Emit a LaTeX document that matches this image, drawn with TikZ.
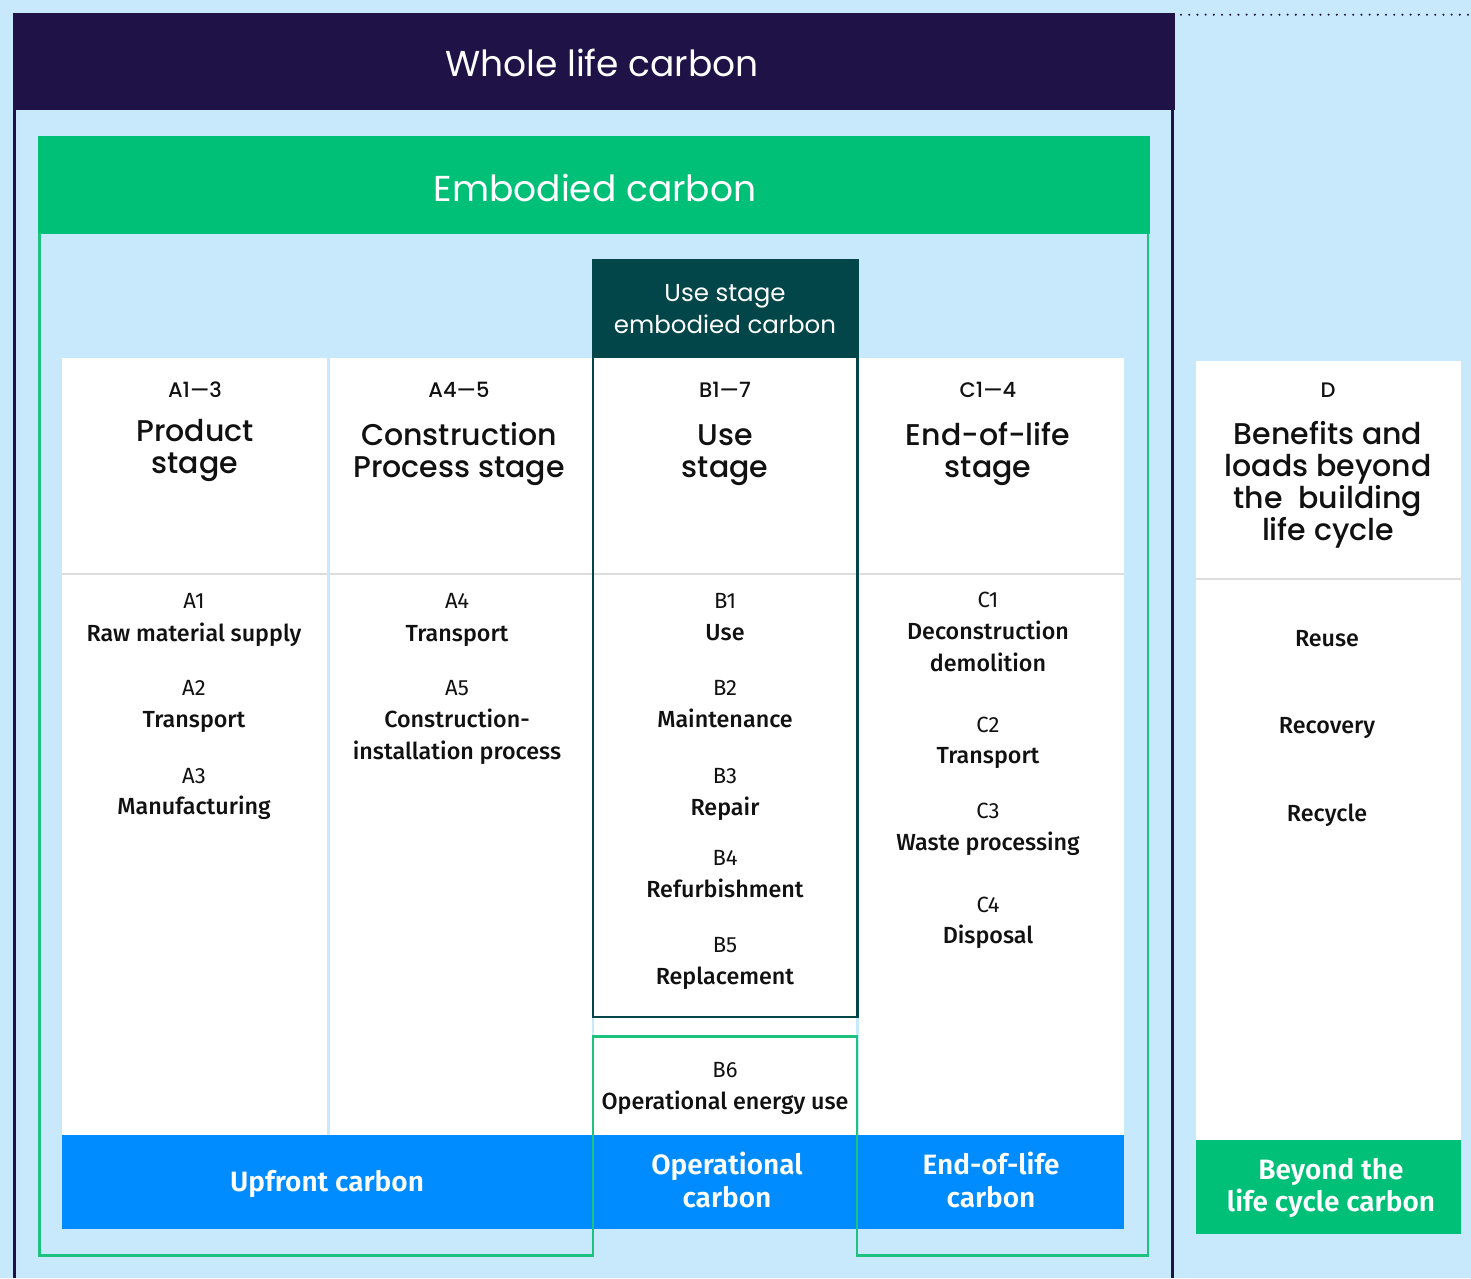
\documentclass[tikz,border=0pt]{standalone}
\usepackage{fontspec}
\newfontfamily\headfont{Poppins}
\newfontfamily\headmed{Poppins Medium}
\newfontfamily\bodyfont{Fira Sans}
\newfontfamily\bodymed{Fira Sans Medium}
\newfontfamily\bodybold{Fira Sans SemiBold}

\definecolor{sky}{HTML}{C8E8FC}
\definecolor{navy}{HTML}{1E1246}
\definecolor{leaf}{HTML}{00C078}
\definecolor{leafline}{HTML}{1CC27E}
\definecolor{deepteal}{HTML}{02464A}
\definecolor{azure}{HTML}{008CFF}
\definecolor{divider}{HTML}{DDDDDD}
\definecolor{ink}{HTML}{111111}

\begin{document}
\begin{tikzpicture}[x=1pt,y=-1pt,
  lbl/.style={anchor=base,inner sep=0pt,outer sep=0pt},
  title/.style={lbl,text=white,font=\headfont\fontsize{36}{36}\selectfont},
  subtitle/.style={lbl,text=white,font=\headfont\fontsize{24.5}{24.5}\selectfont},
  stagecode/.style={lbl,text=ink,font=\headmed\fontsize{21}{21}\selectfont},
  stagename/.style={lbl,text=ink,font=\headmed\fontsize{30}{30}\selectfont},
  modcode/.style={lbl,text=ink,font=\bodyfont\fontsize{22}{22}\selectfont},
  modname/.style={lbl,text=ink,font=\bodymed\fontsize{23.3}{23.3}\selectfont},
  barlabel/.style={lbl,text=white,font=\bodybold\fontsize{28}{28}\selectfont},
  cell/.style={fill=white},
  rule/.style={fill=divider}]
\useasboundingbox (0,0) rectangle (1471,1278);
\fill[sky] (0,0) rectangle (1471,1278);

% whole life carbon frame
\draw[navy,line width=3pt] (14.7,100) -- (14.7,1278);
\draw[navy,line width=3pt] (1172.7,100) -- (1172.7,1278);
\fill[navy] (13,13) rectangle (1175,110);
\draw[navy,line width=2.3pt,line cap=round,dash pattern=on 0pt off 8.2pt] (1181,14.7) -- (1471,14.7);

% embodied carbon header and frame
\fill[leaf] (38,136) rectangle (1150,234);
\draw[leafline,line width=2.6pt] (39.3,234) -- (39.3,1255.5) -- (593,1255.5) -- (593,1036.5)
  -- (857,1036.5) -- (857,1255.5) -- (1148,1255.5) -- (1148,234);

% module columns
\fill[cell] (62,358) rectangle (327,1135);
\fill[cell] (330,358) rectangle (591.5,1135);
\fill[cell] (594,358) rectangle (856,1135);
\fill[cell] (859,358) rectangle (1124,1135);
\fill[rule] (62,572.5) rectangle (327,575);
\fill[rule] (330,572.5) rectangle (591.5,575);
\fill[rule] (594,572.5) rectangle (856,575);
\fill[rule] (859,572.5) rectangle (1124,575);

% carbon category bar
\fill[azure] (62,1135) rectangle (1124,1228.7);

% operational carbon outline (redrawn on top of the bar)
\draw[leafline,line width=2.6pt] (593,1255.5) -- (593,1036.5) -- (857,1036.5) -- (857,1255.5);

% use stage embodied carbon box
\fill[deepteal] (591.7,259.3) rectangle (859,357.5);
\draw[deepteal,line width=2.6pt] (593,357) -- (593,1017) -- (857.5,1017) -- (857.5,357);

% module D column
\fill[cell] (1196,361) rectangle (1461,1140);
\fill[rule] (1196,577.7) rectangle (1461,580);
\fill[leaf] (1196,1140) rectangle (1461,1233.7);

% headers
\node[title] (whole) at (602,76) {Whole life carbon};
\node[title] (embodied) at (595,201) {Embodied carbon};
\node[subtitle] (usehd1) at (725,301) {Use stage};
\node[subtitle] (usehd2) at (725,333) {embodied carbon};

% stage codes
\foreach \x/\t in {195/A1—3,459/A4—5,725/B1—7,988/C1—4,1328/D}
  \node[stagecode] (sc\x) at (\x,397) {\t};

% stage names
\foreach \x/\y/\t in {195/441/Product,195/473/stage,
  459/445/Construction,459/477/Process stage,
  725/445/Use,725/477/stage,
  988/445/End-of-life,988/477/stage,
  1328/444/Benefits and,1328/476/loads beyond,1328/508/the\ \ building,1328/540/life cycle}
  \node[stagename] (sn\x-\y) at (\x,\y) {\t};

% module codes
\foreach \x/\y/\t in {194/608/A1,194/695/A2,194/783/A3,
  457/608/A4,457/695/A5,
  725/608/B1,725/695/B2,725/783/B3,725/865/B4,725/952/B5,725/1077/B6,
  988/607/C1,988/732/C2,988/818/C3,988/912/C4}
  \node[modcode] (mc\x-\y) at (\x,\y) {\t};

% module names
\foreach \x/\y/\t in {194/641/Raw material supply,194/727/Transport,194/814/Manufacturing,
  457/641/Transport,457/727/Construction-,457/759/installation process,
  725/640/Use,725/727/Maintenance,725/815/Repair,725/897/Refurbishment,725/984/Replacement,
  725/1109/Operational energy use,
  988/639/Deconstruction,988/671/demolition,988/763/Transport,988/850/Waste processing,988/943/Disposal,
  1327/646/Reuse,1327/733/Recovery,1327/821/Recycle}
  \node[modname] (mn\x-\y) at (\x,\y) {\t};

% category labels
\node[barlabel] (upfront) at (327,1191) {Upfront carbon};
\node[barlabel] (oper1) at (727,1174) {Operational};
\node[barlabel] (oper2) at (727,1207) {carbon};
\node[barlabel] (eol1) at (991,1174) {End-of-life};
\node[barlabel] (eol2) at (991,1207) {carbon};
\node[barlabel] (beyond1) at (1331,1179) {Beyond the};
\node[barlabel] (beyond2) at (1331,1211) {life cycle carbon};
\end{tikzpicture}
\end{document}
